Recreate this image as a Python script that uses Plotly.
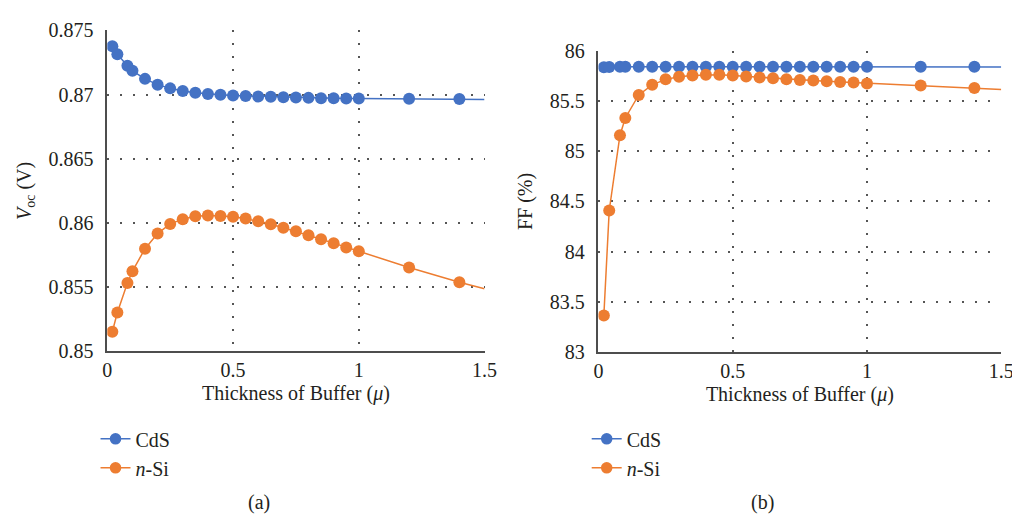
import plotly.graph_objects as go
from plotly.subplots import make_subplots

thickness = [0.02, 0.04, 0.08, 0.1, 0.15, 0.2, 0.25, 0.3, 0.35, 0.4, 0.45, 0.5, 0.55,
             0.6, 0.65, 0.7, 0.75, 0.8, 0.85, 0.9, 0.95, 1.0, 1.2, 1.4, 1.5]

voc_cds = [0.87377, 0.87314, 0.87225, 0.87186, 0.87123, 0.87078, 0.87049, 0.87029,
           0.87015, 0.87005, 0.87000, 0.86993, 0.86990, 0.86985, 0.86983, 0.86980,
           0.86978, 0.86975, 0.86973, 0.86973, 0.86970, 0.86970, 0.86968, 0.86966, 0.86963]
voc_nsi = [0.85153, 0.85303, 0.85533, 0.85625, 0.85800, 0.85918, 0.85993, 0.86030,
           0.86053, 0.86058, 0.86055, 0.86048, 0.86035, 0.86013, 0.85990, 0.85963,
           0.85935, 0.85905, 0.85873, 0.85843, 0.85810, 0.85780, 0.85653, 0.85538, 0.85488]

ff_cds = [85.835, 85.838, 85.84, 85.84, 85.84, 85.84, 85.84, 85.84, 85.84, 85.84,
          85.84, 85.84, 85.84, 85.84, 85.84, 85.84, 85.84, 85.84, 85.84, 85.84,
          85.84, 85.84, 85.84, 85.84, 85.838]
ff_nsi = [83.367, 84.41, 85.159, 85.33, 85.559, 85.66, 85.714, 85.74, 85.752, 85.759,
          85.759, 85.752, 85.743, 85.733, 85.724, 85.714, 85.708, 85.702, 85.695,
          85.689, 85.683, 85.673, 85.654, 85.629, 85.613]

series_names = ["CdS", "<i>n</i>-Si"]
colors = ["#4472C4", "#ED7D31"]
panel_labels = ["(a)", "(b)"]

W, H = 1020, 521
FONT = "'Liberation Serif', 'DejaVu Serif', serif"
TXT = "#231F20"
FS = 20
marker_sizes = [12 if t <= 1.4 else 0 for t in thickness]

fig = make_subplots(rows=1, cols=2)

for col, (s1, s2, leg) in enumerate([(voc_cds, voc_nsi, "legend"), (ff_cds, ff_nsi, "legend2")], start=1):
    for name, ys, c in zip(series_names, [s1, s2], colors):
        fig.add_trace(go.Scatter(
            x=thickness, y=ys, name=name, mode="lines+markers",
            line=dict(color=c, width=1.5),
            marker=dict(color=c, size=marker_sizes, opacity=1, line=dict(width=0)),
            legend=leg,
        ), row=1, col=col)

def px(x):
    return x / W

def py(y):
    return 1 - y / H

axis_common = dict(
    showline=True, linecolor="#4d4d4d", linewidth=1.5,
    showgrid=True, gridcolor="#555555", griddash="2px,11px", gridwidth=1.5,
    zeroline=False, ticks="",
    tickfont=dict(family=FONT, size=FS, color=TXT),
)

fig.update_xaxes(**axis_common, range=[0, 1.5], dtick=0.5, tick0=0, ticklabelstandoff=0,
                 title=dict(text="Thickness of Buffer (<i>μ</i>)",
                            font=dict(family=FONT, size=FS, color=TXT), standoff=6))
fig.update_xaxes(domain=[px(96), px(480)], row=1, col=1)
fig.update_xaxes(domain=[px(596), px(1006)], row=1, col=2)

fig.update_yaxes(**axis_common, ticklabelstandoff=8)
fig.update_yaxes(domain=[py(347), py(12)], range=[0.85, 0.875], dtick=0.005, tick0=0.85,
                 title=dict(text="<i>V</i><sub>oc</sub> (V)",
                            font=dict(family=FONT, size=FS, color=TXT), standoff=12),
                 row=1, col=1)
fig.update_yaxes(domain=[py(348), py(33)], range=[83, 86], dtick=0.5, tick0=83,
                 title=dict(text="FF (%)",
                            font=dict(family=FONT, size=FS, color=TXT), standoff=12),
                 row=1, col=2)

legend_common = dict(
    font=dict(family=FONT, size=FS, color=TXT),
    bgcolor="rgba(0,0,0,0)", borderwidth=0,
    xanchor="left", yanchor="top", tracegroupgap=0, itemwidth=30,
)
fig.update_layout(
    legend=dict(**legend_common, x=px(84), y=py(418)),
    legend2=dict(**legend_common, x=px(584), y=py(418)),
)

for lbl, xc in zip(panel_labels, [250, 763]):
    fig.add_annotation(text=lbl, x=px(xc), y=py(505), xref="paper", yref="paper",
                       xanchor="center", yanchor="middle",
                       showarrow=False, font=dict(family=FONT, size=FS, color=TXT))

fig.update_layout(
    width=W, height=H, margin=dict(l=0, r=0, t=0, b=0),
    paper_bgcolor="white", plot_bgcolor="white", showlegend=True,
)

fig.write_html("out.html")
